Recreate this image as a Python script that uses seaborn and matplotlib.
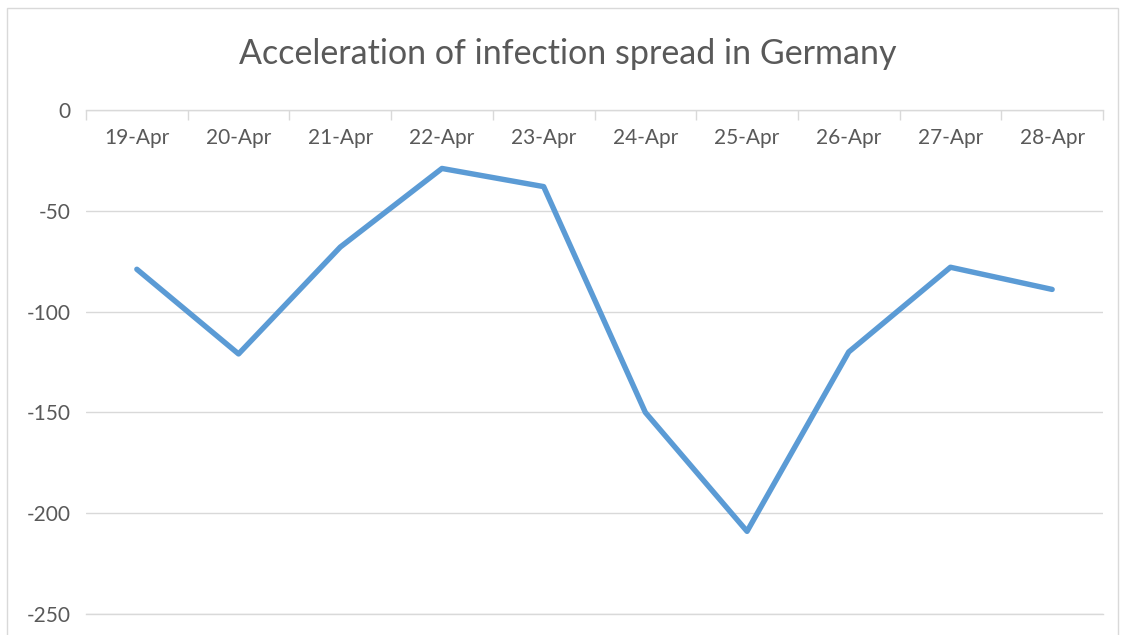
import numpy as np
import pandas as pd
import matplotlib
matplotlib.use("Agg")
import matplotlib.pyplot as plt
import seaborn as sns
from matplotlib.patches import Rectangle

# Data
dates = ["19-Apr", "20-Apr", "21-Apr", "22-Apr", "23-Apr",
         "24-Apr", "25-Apr", "26-Apr", "27-Apr", "28-Apr"]
acceleration = [-79, -121, -68, -29, -38, -150, -209, -120, -78, -89]
y_ticks = [0, -50, -100, -150, -200, -250]

df = pd.DataFrame({"date": dates, "acceleration": acceleration})
df["pos"] = np.arange(len(df))

sns.set_theme(style="white")
plt.rcParams["font.family"] = ["Lato", "DejaVu Sans"]

text_color = "#595959"
grid_color = "#D9D9D9"
line_color = "#5B9BD5"

fig = plt.figure(figsize=(11.23, 6.35), dpi=100)
W, H = 1123, 635
ax = fig.add_axes([86 / W, 1 - 614 / H, (1103 - 86) / W, (614 - 110) / H])

sns.lineplot(data=df, x="pos", y="acceleration", ax=ax,
             color=line_color, linewidth=3.9, solid_capstyle="round")

ax.set_xlim(-0.5, len(dates) - 0.5)
ax.set_ylim(-250, 0)
ax.set_yticks(y_ticks)
ax.set_yticklabels([str(v) for v in y_ticks])
ax.grid(axis="y", color=grid_color, linewidth=1)
ax.set_axisbelow(True)

# category axis sits at y=0 (top), labels hang below it
ax.xaxis.tick_top()
ax.set_xticks(df["pos"])
ax.set_xticklabels(dates)
ax.set_xticks(np.arange(-0.5, len(dates)), minor=True)
ax.tick_params(axis="x", which="major", length=0, pad=-27,
               labelsize=15, labelcolor=text_color)
ax.tick_params(axis="x", which="minor", top=True, direction="in",
               length=7, width=1, color=grid_color)
ax.tick_params(axis="y", length=0, pad=11, labelsize=15, labelcolor=text_color)
for lbl in ax.get_yticklabels():
    lbl.set_horizontalalignment("right")

for side in ["left", "right"]:
    ax.spines[side].set_visible(False)
for side in ["top", "bottom"]:
    ax.spines[side].set_color(grid_color)
    ax.spines[side].set_linewidth(1)

ax.set_xlabel("")
ax.set_ylabel("")

fig.text(568 / W, 1 - 54 / H, "Acceleration of infection spread in Germany",
         ha="center", va="center", fontsize=24.5, color=text_color)

# chart area border
fig.patches.append(Rectangle((7 / W, -0.01), (1118 - 7) / W, 1 - 8 / H + 0.01,
                             transform=fig.transFigure, fill=False,
                             edgecolor=grid_color, linewidth=1))

fig.savefig("out.png", dpi=100)
